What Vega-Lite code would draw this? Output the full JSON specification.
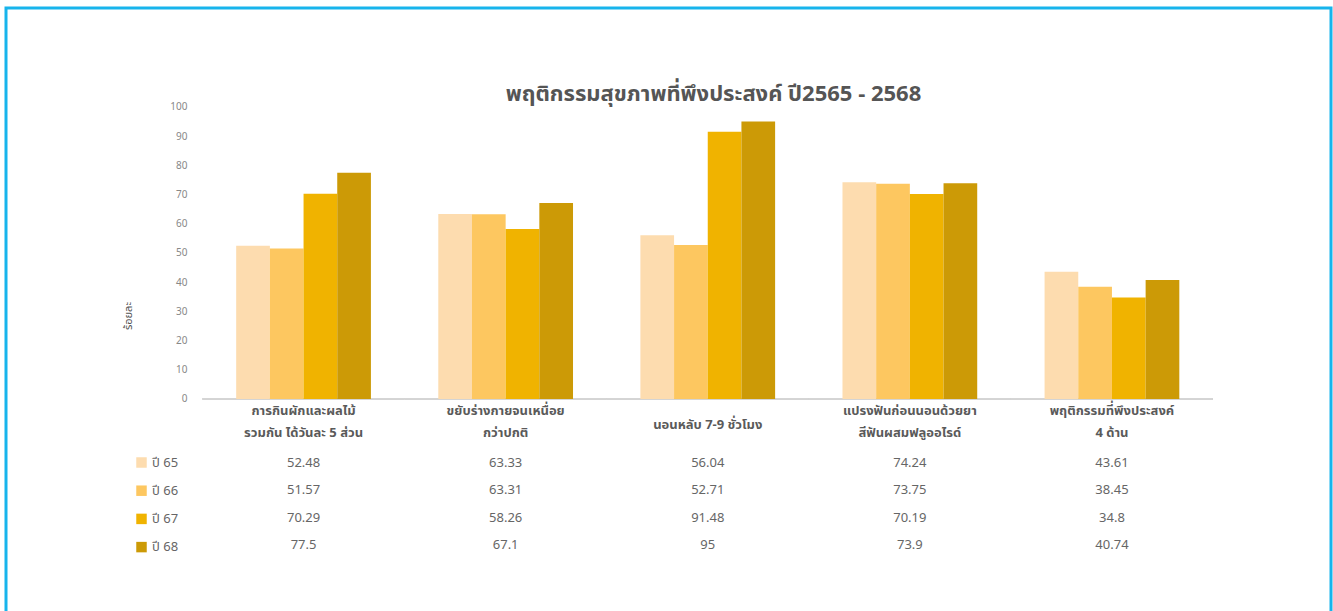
{
  "$schema": "https://vega.github.io/schema/vega-lite/v6.json",
  "autosize": {"type": "none"},
  "width": 1325,
  "height": 615,
  "padding": {"left": 6, "top": 8, "right": 2, "bottom": 0},
  "background": "white",
  "config": {
    "view": {"stroke": "#17B4EC", "strokeWidth": 3},
    "font": "Noto Sans Thai, Loma, Garuda, Noto Sans, sans-serif"
  },
  "title": {
    "text": "พฤติกรรมสุขภาพที่พึงประสงค์ ปี2565 - 2568",
    "fontSize": 22,
    "fontWeight": "bold",
    "color": "#555555",
    "anchor": "middle",
    "baseline": "middle",
    "offset": -108,
    "dx": 45
  },
  "data": {
    "values": [
      {"behavior": "การกินผักและผลไม้|รวมกัน ได้วันละ 5 ส่วน", "year": "ปี 65", "value": 52.48},
      {"behavior": "การกินผักและผลไม้|รวมกัน ได้วันละ 5 ส่วน", "year": "ปี 66", "value": 51.57},
      {"behavior": "การกินผักและผลไม้|รวมกัน ได้วันละ 5 ส่วน", "year": "ปี 67", "value": 70.29},
      {"behavior": "การกินผักและผลไม้|รวมกัน ได้วันละ 5 ส่วน", "year": "ปี 68", "value": 77.5},
      {"behavior": "ขยับร่างกายจนเหนื่อย|กว่าปกติ", "year": "ปี 65", "value": 63.33},
      {"behavior": "ขยับร่างกายจนเหนื่อย|กว่าปกติ", "year": "ปี 66", "value": 63.31},
      {"behavior": "ขยับร่างกายจนเหนื่อย|กว่าปกติ", "year": "ปี 67", "value": 58.26},
      {"behavior": "ขยับร่างกายจนเหนื่อย|กว่าปกติ", "year": "ปี 68", "value": 67.1},
      {"behavior": "นอนหลับ 7-9 ชั่วโมง", "year": "ปี 65", "value": 56.04},
      {"behavior": "นอนหลับ 7-9 ชั่วโมง", "year": "ปี 66", "value": 52.71},
      {"behavior": "นอนหลับ 7-9 ชั่วโมง", "year": "ปี 67", "value": 91.48},
      {"behavior": "นอนหลับ 7-9 ชั่วโมง", "year": "ปี 68", "value": 95},
      {"behavior": "แปรงฟันก่อนนอนด้วยยา|สีฟันผสมฟลูออไรด์", "year": "ปี 65", "value": 74.24},
      {"behavior": "แปรงฟันก่อนนอนด้วยยา|สีฟันผสมฟลูออไรด์", "year": "ปี 66", "value": 73.75},
      {"behavior": "แปรงฟันก่อนนอนด้วยยา|สีฟันผสมฟลูออไรด์", "year": "ปี 67", "value": 70.19},
      {"behavior": "แปรงฟันก่อนนอนด้วยยา|สีฟันผสมฟลูออไรด์", "year": "ปี 68", "value": 73.9},
      {"behavior": "พฤติกรรมที่พึงประสงค์|4 ด้าน", "year": "ปี 65", "value": 43.61},
      {"behavior": "พฤติกรรมที่พึงประสงค์|4 ด้าน", "year": "ปี 66", "value": 38.45},
      {"behavior": "พฤติกรรมที่พึงประสงค์|4 ด้าน", "year": "ปี 67", "value": 34.8},
      {"behavior": "พฤติกรรมที่พึงประสงค์|4 ด้าน", "year": "ปี 68", "value": 40.74}
    ]
  },
  "encoding": {
    "x": {
      "field": "behavior",
      "type": "nominal",
      "sort": null,
      "scale": {"paddingInner": 0, "paddingOuter": 0.7781, "align": 0.6248},
      "axis": {
        "title": null,
        "orient": "bottom",
        "offset": -224,
        "domain": false,
        "ticks": false,
        "labelAngle": 0,
        "labelExpr": "split(datum.label, '|')",
        "labelBaseline": "middle",
        "labelPadding": {"condition": {"test": "indexof(datum.value, '|') < 0", "value": 25}, "value": 11},
        "labelLineHeight": 22,
        "labelFontSize": 13,
        "labelFontWeight": "bold",
        "labelColor": "#5a5a5a",
        "labelLimit": 300
      }
    }
  },
  "layer": [
    {
      "mark": {"type": "bar", "stroke": "#d4d4d4", "strokeWidth": 1, "fillOpacity": 0},
      "encoding": {
        "y": {"datum": 0, "type": "quantitative", "scale": {"domain": [-76.71, 133.9], "nice": false, "zero": false}, "axis": null},
        "y2": {"datum": 0}
      }
    },
    {
      "mark": {"type": "bar"},
      "encoding": {
        "xOffset": {"field": "year", "type": "nominal", "scale": {"paddingInner": 0, "paddingOuter": 1}},
        "y": {
          "field": "value",
          "type": "quantitative",
          "scale": {"domain": [-76.71, 133.9], "nice": false, "zero": false},
          "axis": {
            "orient": "left",
            "title": "ร้อยละ",
            "titleFontSize": 11,
            "titleFontWeight": "normal",
            "titleColor": "#555555",
            "titlePadding": 36,
            "offset": -183,
            "values": [0, 10, 20, 30, 40, 50, 60, 70, 80, 90, 100],
            "domain": false,
            "ticks": false,
            "grid": false,
            "labelPadding": 2,
            "labelFontSize": 10,
            "labelColor": "#888888"
          }
        },
        "color": {
          "field": "year",
          "type": "nominal",
          "scale": {"domain": ["ปี 65", "ปี 66", "ปี 67", "ปี 68"], "range": ["#FDDCAF", "#FDC760", "#F0B300", "#CC9A06"]},
          "legend": {
            "title": null,
            "orient": "none",
            "legendX": 129,
            "legendY": 448,
            "padding": 0,
            "symbolType": "square",
            "symbolSize": 110,
            "symbolStrokeWidth": 0,
            "labelFontSize": 13,
            "labelColor": "#666666",
            "labelOffset": 4,
            "rowPadding": 14.2
          }
        }
      }
    },
    {
      "mark": {"type": "text", "fontSize": 13, "color": "#666666", "baseline": "middle"},
      "encoding": {
        "y": {
          "field": "year",
          "type": "ordinal",
          "scale": {"type": "point", "domain": ["ปี 65", "ปี 66", "ปี 67", "ปี 68"], "range": [455, 537], "padding": 0},
          "axis": null
        },
        "text": {"field": "value", "type": "nominal"}
      }
    }
  ],
  "resolve": {"scale": {"y": "independent"}, "axis": {"y": "independent"}}
}
